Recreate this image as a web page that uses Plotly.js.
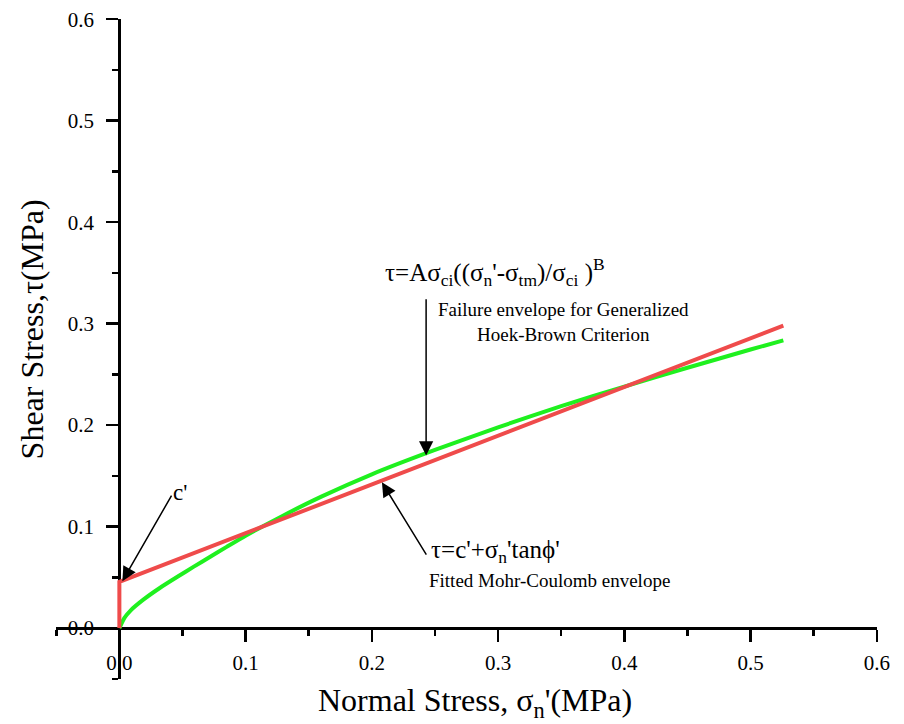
<!DOCTYPE html>
<html>
<head>
<meta charset="utf-8">
<script src="https://cdn.plot.ly/plotly-3.0.1.min.js"></script>
<style>html,body{margin:0;padding:0;background:#fff}</style>
</head>
<body>
<div id="chart" style="width:904px;height:724px"></div>
<script>
// Generalized Hoek-Brown failure envelope
const hbSigma = [0, 0.004, 0.009, 0.019, 0.032, 0.046, 0.059, 0.072, 0.085, 0.1, 0.13, 0.16, 0.2, 0.25, 0.3, 0.35, 0.4, 0.45, 0.5, 0.526];
const hbTau   = [0, 0.010, 0.0175, 0.028, 0.0395, 0.0505, 0.0605, 0.0703, 0.0800, 0.0910, 0.111, 0.1295, 0.1515, 0.1755, 0.1978, 0.2188, 0.238, 0.2565, 0.2745, 0.2835];
// Fitted Mohr-Coulomb envelope
const mcSigma = [0, 0, 0.526];
const mcTau   = [0, 0.0455, 0.298];
const xTicks = [0, 0.1, 0.2, 0.3, 0.4, 0.5, 0.6];
const xTickLabels = ['0.0', '0.1', '0.2', '0.3', '0.4', '0.5', '0.6'];
const yTicks = [0, 0.1, 0.2, 0.3, 0.4, 0.5, 0.6];
const yTickLabels = ['0.0', '0.1', '0.2', '0.3', '0.4', '0.5', '0.6'];

const FONT = 'Liberation Serif, Times New Roman, serif';

const traces = [
  {x: hbSigma, y: hbTau, mode: 'lines', line: {color: '#1ff01f', width: 4, shape: 'spline', smoothing: 0.5}, showlegend: false, hoverinfo: 'skip', cliponaxis: false},
  {x: mcSigma, y: mcTau, mode: 'lines', line: {color: '#ef4b4b', width: 4}, showlegend: false, hoverinfo: 'skip', cliponaxis: false}
];

const axisCommon = {
  showgrid: false, zeroline: false, showline: true, linecolor: 'black', linewidth: 2.5,
  ticks: 'outside', ticklen: 12, tickwidth: 2.5, tickcolor: 'black',
  tickfont: {family: FONT, size: 21, color: 'black'},
  minor: {dtick: 0.05, ticks: 'outside', ticklen: 6, tickwidth: 2.5, tickcolor: 'black', showgrid: false},
  anchor: 'free', position: 0.05 / 0.65, layer: 'below traces'
};

const layout = {
  width: 904, height: 724,
  margin: {l: 56, r: 27, t: 19, b: 45},
  paper_bgcolor: 'white', plot_bgcolor: 'white',
  font: {family: FONT, color: 'black'},
  xaxis: Object.assign({}, axisCommon, {range: [-0.0502, 0.6002], tickvals: xTicks, ticktext: xTickLabels, ticklabelstandoff: 3}),
  yaxis: Object.assign({}, axisCommon, {range: [-0.0502, 0.6002], tickvals: yTicks, ticktext: yTickLabels, ticklabelstandoff: 8}),
  annotations: [
    // axis titles
    {xref: 'paper', yref: 'paper', x: 0.51, y: -0.035, text: "Normal Stress, σ<sub>n</sub>'(MPa)", showarrow: false, xanchor: 'center', yanchor: 'middle', font: {family: FONT, size: 32, color: 'black'}},
    {xref: 'paper', yref: 'paper', x: -0.029, y: 0.53, text: 'Shear Stress,τ(MPa)', textangle: -90, showarrow: false, xanchor: 'center', yanchor: 'middle', font: {family: FONT, size: 32, color: 'black'}},
    // c'
    {x: 0.0024, y: 0.0462, ax: 0.042, ay: 0.132, axref: 'x', ayref: 'y', text: '', showarrow: true, arrowhead: 2, arrowsize: 1.9, arrowwidth: 1.5, arrowcolor: 'black'},
    {x: 0.041, y: 0.1335, text: "c'", showarrow: false, xanchor: 'left', yanchor: 'middle', font: {family: FONT, size: 23, color: 'black'}},
    // Hoek-Brown
    {x: 0.243, y: 0.170, ax: 0.243, ay: 0.3255, axref: 'x', ayref: 'y', text: '', showarrow: true, arrowhead: 2, arrowsize: 1.9, arrowwidth: 1.5, arrowcolor: 'black'},
    {x: 0.2085, y: 0.351, text: "τ=Aσ<sub>ci</sub>((σ<sub>n</sub>'-σ<sub>tm</sub>)/σ<sub>ci</sub> )<sup>B</sup>", showarrow: false, xanchor: 'left', yanchor: 'middle', font: {family: FONT, size: 25, color: 'black'}},
    {x: 0.251, y: 0.3265, text: 'Failure envelope for Generalized<br>Hoek-Brown Criterion', showarrow: false, xanchor: 'left', yanchor: 'top', align: 'center', font: {family: FONT, size: 19, color: 'black'}},
    // Mohr-Coulomb
    {x: 0.208, y: 0.1436, ax: 0.2439, ay: 0.0708, axref: 'x', ayref: 'y', text: '', showarrow: true, arrowhead: 2, arrowsize: 1.9, arrowwidth: 1.5, arrowcolor: 'black'},
    {x: 0.2455, y: 0.075, text: "τ=c'+σ<sub>n</sub>'tanϕ'", showarrow: false, xanchor: 'left', yanchor: 'middle', font: {family: FONT, size: 25, color: 'black'}},
    {x: 0.2435, y: 0.0472, text: 'Fitted Mohr-Coulomb envelope', showarrow: false, xanchor: 'left', yanchor: 'middle', font: {family: FONT, size: 19, color: 'black'}}
  ]
};

Plotly.newPlot('chart', traces, layout, {displayModeBar: false, staticPlot: true});
</script>
</body>
</html>
